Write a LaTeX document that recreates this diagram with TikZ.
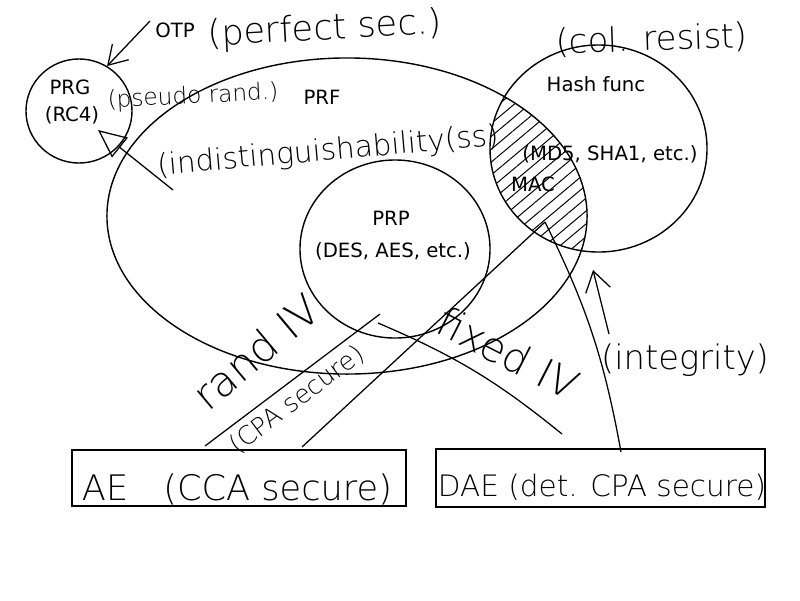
\documentclass[tikz,border=0pt]{standalone}
\usepackage{fontspec}
\setmainfont{DejaVu Sans}
\newfontfamily\handfont{DejaVu Sans ExtraLight}
\usetikzlibrary{shapes.geometric,arrows.meta,patterns.meta}

\begin{document}
\begin{tikzpicture}[x=0.025cm, y=-0.025cm,
                    line width=1pt,
                    set node/.style={ellipse,draw,inner sep=0pt},
                    label node/.style={font=\fontsize{14}{17}\selectfont},
                    hand node/.style={inner sep=0pt},
                    box node/.style={draw,inner sep=0pt},
                    pen/.style={line width=0.9pt}]
  \useasboundingbox (0,0) rectangle (800,600);

  % the sets
  \node[set node, minimum width=2.65cm, minimum height=2.6cm] (PRG) at (79,111) {};
  \node[set node, minimum width=12cm, minimum height=7.9cm] (PRF) at (347,216) {};
  \node[set node, minimum width=4.75cm, minimum height=4.45cm] (PRP) at (395,249) {};
  \node[set node, minimum width=5.425cm, minimum height=5.175cm] (H) at (598.5,148.5) {};

  % MAC = PRF and hash
  \begin{scope}
    \clip (347,216) ellipse [x radius=240, y radius=158];
    \fill[pattern={Lines[angle=40,distance=7pt,line width=0.7pt]}]
      (598.5,148.5) ellipse [x radius=108.5, y radius=103.5];
  \end{scope}

  \node[label node] (otp) at (175,30) {OTP};
  \node[label node] (prgname) at (70,87) {PRG};
  \node[label node] (rc4) at (72,115) {(RC4)};
  \node[label node] (prfname) at (322,97) {PRF};
  \node[label node] (hashname) at (596,84) {Hash func};
  \node[label node] (md5) at (610,154) {(MD5, SHA1, etc.)};
  \node[label node] (mac) at (533,184) {MAC};
  \node[label node] (prpname) at (391,218) {PRP};
  \node[label node] (des) at (393,251) {(DES, AES, etc.)};

  % handwriting
  \node[hand node, font=\handfont\fontsize{25}{30}\selectfont, rotate=3]
    (perfect) at (325,30) {(perfect sec.)};
  \node[hand node, font=\handfont\fontsize{24}{30}\selectfont, rotate=2]
    (colres) at (652,40) {(col. resist)};
  \node[hand node, font=\handfont\fontsize{16.5}{20}\selectfont, rotate=3]
    (pseudo) at (193,97) {(pseudo rand.)};
  \node[hand node, font=\handfont\fontsize{21}{26}\selectfont, rotate=5]
    (indist) at (328,152) {(indistinguishability(ss)};
  \node[hand node, font=\handfont\fontsize{24}{30}\selectfont]
    (integ) at (685,360) {(integrity)};
  \node[hand node, font=\handfont\fontsize{30}{36}\selectfont, rotate=40]
    (randiv) at (256,352) {rand IV};
  \node[hand node, font=\handfont\fontsize{18}{22}\selectfont, rotate=37]
    (cpa) at (297,400) {(CPA secure)};
  \node[hand node, font=\handfont\fontsize{29}{34}\selectfont, rotate=-27]
    (fixiv) at (508,353) {fixed IV};

  % the schemes
  \node[box node, minimum width=8.35cm, minimum height=1.4cm] (AE) at (239,478) {};
  \node[box node, minimum width=8.225cm, minimum height=1.45cm] (DAE) at (600.5,478) {};
  \node[hand node, font=\handfont\fontsize{25}{30}\selectfont]
    (aename) at (237,489) {AE\quad(CCA secure)};
  \node[hand node, font=\handfont\fontsize{21}{26}\selectfont]
    (daename) at (602,487) {DAE (det. CPA secure)};

  \coordinate (otptail) at (150,21);
  \coordinate (prgtip) at (98,130);
  \coordinate (indtail) at (173,190);
  \coordinate (prpin1) at (380,314);
  \coordinate (prpin2) at (378,323);
  \coordinate (macin) at (545,222);
  \coordinate (aetop1) at (205,446);
  \coordinate (aetop2) at (302,447);
  \coordinate (daetop1) at (562,434);
  \coordinate (daetop2) at (621,452);
  \coordinate (integtip) at (593,270);
  \coordinate (integtail) at (609,334);

  \path[pen]
    (otptail) edge[-{Straight Barb[length=13pt,width=16pt]}] (PRG.58)
    (indtail) edge[-{Triangle[open,length=20pt,width=18pt]}] (prgtip)
    (aetop1) edge (prpin1)
    (aetop2) edge (macin)
    (prpin2) edge[bend left=8] (daetop1)
    (macin) edge[bend left=8] (daetop2)
    (integtail) edge[-{Straight Barb[length=14pt,width=18pt]}] (integtip);
\end{tikzpicture}
\end{document}
